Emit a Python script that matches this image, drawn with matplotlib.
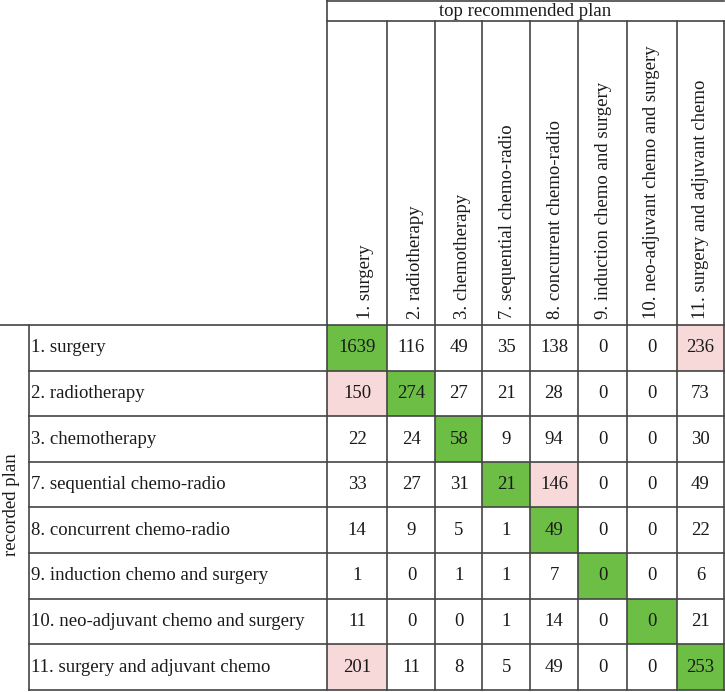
import matplotlib.pyplot as plt
from matplotlib.patches import Rectangle

plt.rcParams['font.family'] = ['Liberation Serif', 'DejaVu Serif']

# ---------------- data ----------------
col_labels = ["1. surgery", "2. radiotherapy", "3. chemotherapy",
              "7. sequential chemo-radio", "8. concurrent chemo-radio",
              "9. induction chemo and surgery",
              "10. neo-adjuvant chemo and surgery",
              "11. surgery and adjuvant chemo"]
row_labels = col_labels

counts = [
    [1639, 116, 49, 35, 138, 0, 0, 236],
    [150, 274, 27, 21, 28, 0, 0, 73],
    [22, 24, 58, 9, 94, 0, 0, 30],
    [33, 27, 31, 21, 146, 0, 0, 49],
    [14, 9, 5, 1, 49, 0, 0, 22],
    [1, 0, 1, 1, 7, 0, 0, 6],
    [11, 0, 0, 1, 14, 0, 0, 21],
    [201, 11, 8, 5, 49, 0, 0, 253],
]

# off-diagonal cells highlighted in pink (row, col)
pink_cells = [(0, 7), (1, 0), (3, 4), (7, 0)]

# ---------------- layout (pixels) ----------------
W, H = 725, 692
col_edges = [327, 387.5, 435.5, 482.5, 530, 578, 627, 677, 724]
row_top = 325
row_h = 45.6
head_line = 20.5
left_line = 29.5
label_x = 31
header_x = [366, 416, 463, 508, 556, 604, 652, 701]
header_bottom = 319

green = "#6dbe45"
pink = "#f7d9d9"
lc = "#444444"
tc = "#1a1a1a"
fs = 13.5

fig = plt.figure(figsize=(W / 100, H / 100), dpi=100)
ax = fig.add_axes([0, 0, 1, 1])
ax.set_xlim(0, W)
ax.set_ylim(H, 0)
ax.axis('off')

n = len(row_labels)
row_edges = [row_top + i * row_h for i in range(n + 1)]

# cell fills
for i in range(n):
    for j in range(n):
        c = None
        if i == j:
            c = green
        elif (i, j) in pink_cells:
            c = pink
        if c:
            ax.add_patch(Rectangle((col_edges[j], row_edges[i]),
                                   col_edges[j + 1] - col_edges[j], row_h,
                                   facecolor=c, edgecolor='none', zorder=1))

# grid lines
lw = 1.2
for y in row_edges[1:]:
    ax.plot([left_line, col_edges[-1]], [y, y], color=lc, lw=lw, zorder=2)
ax.plot([0, col_edges[-1]], [row_top, row_top], color=lc, lw=lw, zorder=2)
ax.plot([col_edges[0], col_edges[-1]], [0.8, 0.8], color=lc, lw=lw, zorder=2)
ax.plot([col_edges[0], col_edges[-1]], [head_line, head_line], color=lc, lw=lw, zorder=2)
ax.plot([left_line, left_line], [row_top, row_edges[-1]], color=lc, lw=lw, zorder=2)
ax.plot([col_edges[0], col_edges[0]], [0, row_edges[-1]], color=lc, lw=lw, zorder=2)
for x in col_edges[1:]:
    ax.plot([x, x], [head_line, row_edges[-1]], color=lc, lw=lw, zorder=2)

# texts
ax.text((col_edges[0] + col_edges[-1]) / 2, head_line / 2 + 1, "top recommended plan",
        ha='center', va='center', fontsize=fs, color=tc)
ax.text(12, (row_top + row_edges[-1]) / 2 - 3, "recorded plan", rotation=90,
        ha='center', va='center', fontsize=fs, color=tc)

for j, lab in enumerate(col_labels):
    ax.text(header_x[j], header_bottom, lab, rotation=90, ha='center', va='bottom',
            fontsize=fs, color=tc)

for i, lab in enumerate(row_labels):
    yc = (row_edges[i] + row_edges[i + 1]) / 2
    ax.text(label_x, yc, lab, ha='left', va='center', fontsize=fs, color=tc)
    for j in range(n):
        xc = (col_edges[j] + col_edges[j + 1]) / 2
        ax.text(xc, yc, str(counts[i][j]), ha='center', va='center',
                fontsize=fs, color=tc, zorder=3)

fig.savefig("out.png", dpi=100)
